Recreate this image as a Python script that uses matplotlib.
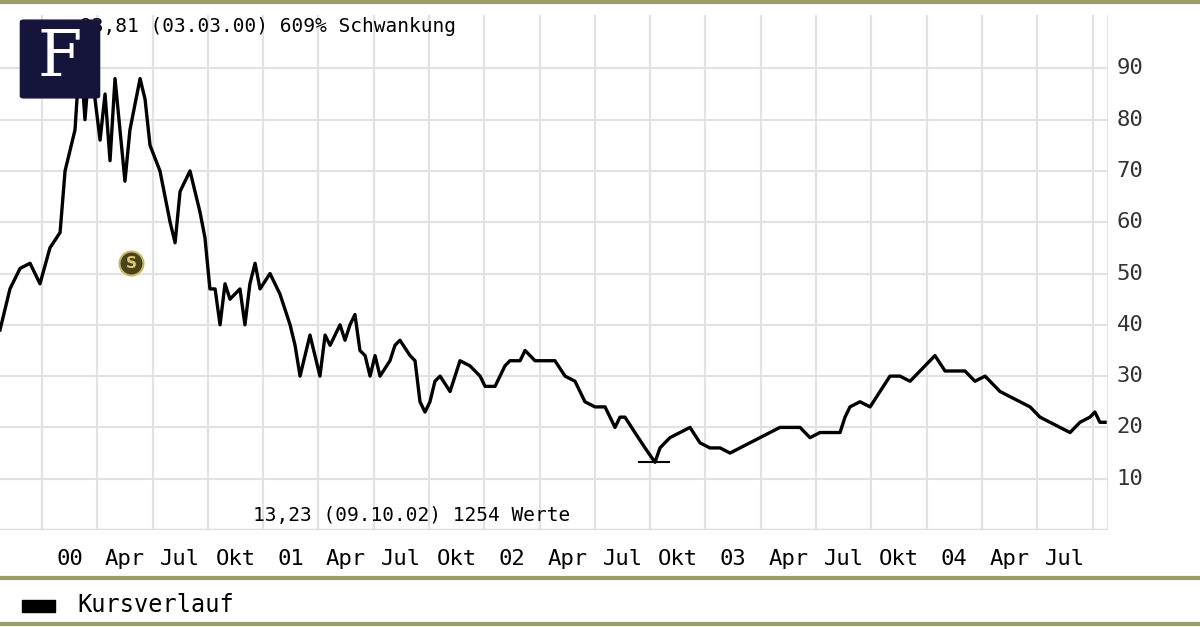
import matplotlib.pyplot as plt
from matplotlib.patches import FancyBboxPatch, Rectangle
from matplotlib.lines import Line2D

# Monate seit Jan 2000 und Kurs
monat = [-2.28, -1.74, -1.19, -0.65, -0.11, 0.43, 0.98, 1.25, 1.79, 2.07, 2.33, 2.60,
         3.15, 3.42, 3.69, 3.96, 4.50, 4.77, 5.32, 5.59, 5.86, 6.40, 6.95, 7.22, 7.49,
         8.03, 8.30, 8.57, 8.84, 9.11, 9.39, 9.66, 9.93, 10.20, 10.74, 11.01, 11.28,
         11.56, 11.83, 12.37, 12.64, 12.91, 13.46, 13.73, 14.00, 14.27, 14.54, 15.08,
         15.36, 15.63, 16.17, 16.44, 16.71, 16.98, 17.25, 17.53, 17.80, 18.07, 18.34,
         18.88, 19.15, 19.42, 19.97, 20.24, 20.51, 20.78, 21.05, 21.32, 21.60, 22.14,
         22.68, 23.22, 23.77, 24.04, 24.58, 25.12, 25.39, 25.94, 26.21, 26.75, 27.29,
         27.83, 28.38, 28.92, 29.46, 30.00, 30.55, 31.09, 31.36, 31.63, 32.17, 32.72,
         33.26, 33.53, 34.07, 34.62, 35.16, 35.70, 36.24, 36.79, 37.33, 37.87, 38.42,
         38.96, 39.50, 40.04, 40.59, 41.13, 41.67, 42.21, 42.76, 43.30, 43.57, 43.84,
         44.38, 44.93, 45.47, 46.01, 46.55, 47.10, 47.64, 48.18, 48.45, 49.00, 49.54,
         50.08, 50.62, 51.17, 51.71, 51.98, 52.52, 53.06, 53.61, 54.15, 54.69, 55.23,
         55.78, 56.32, 56.86, 57.13, 57.40, 57.68]
kurs = [39, 47, 51, 52, 48, 55, 58, 70, 78, 93.8, 80, 92,
        76, 85, 72, 88, 68, 78, 88, 84, 75, 70, 60, 56, 66,
        70, 66, 62, 57, 47, 47, 40, 48, 45, 47, 40, 48,
        52, 47, 50, 48, 46, 40, 36, 30, 34, 38, 30,
        38, 36, 40, 37, 40, 42, 35, 34, 30, 34, 30,
        33, 36, 37, 34, 33, 25, 23, 25, 29, 30, 27,
        33, 32, 30, 28, 28, 32, 33, 33, 35, 33, 33,
        33, 30, 29, 25, 24, 24, 20, 22, 22, 19, 16,
        13.2, 16, 18, 19, 20, 17, 16, 16, 15, 16, 17,
        18, 19, 20, 20, 20, 18, 19, 19, 19, 22, 24,
        25, 24, 27, 30, 30, 29, 31, 33, 34, 31, 31,
        31, 29, 30, 28, 27, 26, 25, 24, 22, 21, 20,
        19, 21, 22, 23, 21, 21]

x_labels = ["00", "Apr", "Jul", "Okt", "01", "Apr", "Jul", "Okt", "02", "Apr", "Jul",
            "Okt", "03", "Apr", "Jul", "Okt", "04", "Apr", "Jul"]
y_ticks = [10, 20, 30, 40, 50, 60, 70, 80, 90]

W, H = 1200, 627
fig = plt.figure(figsize=(12, 6.27), dpi=100)
ax = fig.add_axes([0, (H - 530) / H, 1108 / W, (530 - 15) / H])
ax.set_xlim(-2.28, 57.84)
ax.set_ylim(0, 100.4)
for s in ax.spines.values():
    s.set_visible(False)
ax.set_xticks([])
ax.set_yticks([])
grid = "#e2e2e2"
for m in range(0, 58, 3):
    ax.axvline(m, color=grid, lw=1.5, zorder=0)
for v in y_ticks:
    ax.axhline(v, color=grid, lw=1.5, zorder=0)
ax.axhline(0, color="#dcdcdc", lw=2.5, zorder=0)
ax.axvline(57.84, color=grid, lw=1.5, zorder=0)

ax.plot(monat, kurs, color="black", lw=2.4, zorder=3)
ax.plot([32.4, 34.0], [13.2, 13.2], color="black", lw=1.5, zorder=3)

# Dividenden-Marker
ax.scatter([4.83], [52], s=300, color="#4a4418", edgecolor="#c9b96a", lw=1.5, zorder=4)
ax.text(4.83, 52, "S", fontsize=11, weight="bold", color="#d8c77a",
        ha="center", va="center", zorder=5)

mono = "DejaVu Sans Mono"
for i, lab in enumerate(x_labels):
    ax.text(1.5 + 3 * i, -3.8, lab, ha="center", va="top", fontsize=16,
            family=mono, clip_on=False)
for v in y_ticks:
    ax.text(58.3, v, str(v), ha="left", va="center", fontsize=16, family=mono,
            color="#333333", clip_on=False)

fig.text(80 / W, 1 - 26 / H, "93,81 (03.03.00) 609% Schwankung", fontsize=14,
         family=mono, va="center")
fig.text(253 / W, 1 - 516 / H, "13,23 (09.10.02) 1254 Werte", fontsize=14,
         family=mono, va="center")

olive = "#9b9b6b"
for y in (2, 578, 624):
    fig.add_artist(Line2D([0, 1], [1 - y / H, 1 - y / H], color=olive, lw=3))
fig.add_artist(Rectangle((22 / W, 1 - 612 / H), 33 / W, 12 / H, color="black"))
fig.text(77 / W, 1 - 605 / H, "Kursverlauf", fontsize=17, family=mono, va="center")

# Logo
fig.add_artist(FancyBboxPatch((24 / W, 1 - 96 / H), 72 / W, 74 / H,
                              boxstyle="round,pad=0.003", color="#15143a", zorder=5))
fig.text(60 / W, 1 - 58 / H, "F", fontsize=46, family="DejaVu Serif", color="white",
         ha="center", va="center", zorder=6)

fig.savefig("out.png", dpi=100)
